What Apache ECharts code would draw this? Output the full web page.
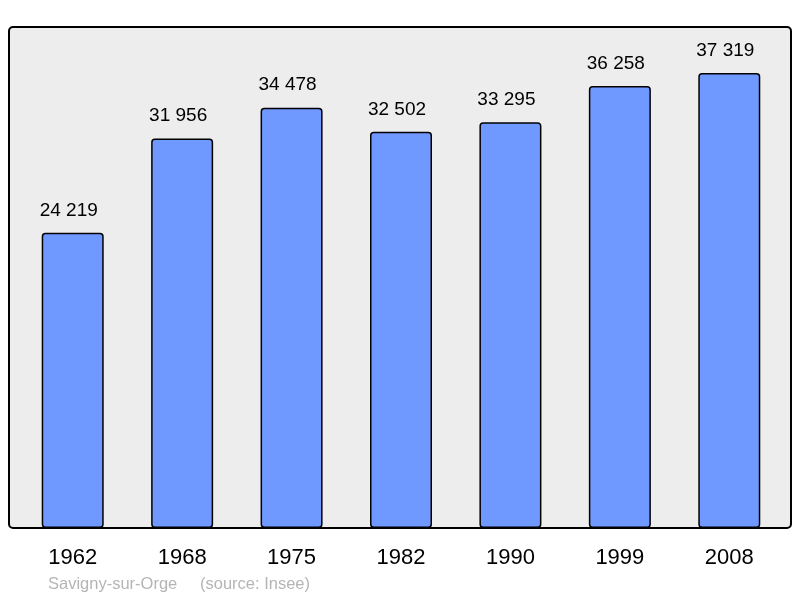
<html>
<head>
  <meta charset="utf-8">
  <title>Savigny-sur-Orge</title>
  <script src="https://cdn.jsdelivr.net/npm/echarts@6/dist/echarts.min.js"></script>
  <style>
    html,
    body {
      width: 100%;
      height: 100%;
      margin: 0;
      background: #fff;
    }

    #chart {
      width: 800px;
      height: 598px;
    }
  </style>
</head>
<body>
  <div id="chart"></div>
  <script>
    var years = ['1962', '1968', '1975', '1982', '1990', '1999', '2008'];
    var population = [24219, 31956, 34478, 32502, 33295, 36258, 37319];

    var myChart = echarts.init(document.getElementById('chart'));

    function fmt(v) {
      return String(v).replace(/\B(?=(\d{3})+(?!\d))/g, ' ');
    }

    var option = {
      animation: false,
      grid: {
        left: 18,
        top: 27,
        width: 766,
        height: 501
      },
      graphic: [{
        type: 'rect',
        z: -10,
        shape: { x: 9, y: 27, width: 782, height: 501, r: 4 },
        style: { fill: '#ededed', stroke: '#000', lineWidth: 2 }
      }, {
        type: 'text',
        left: 48,
        top: 576,
        style: {
          text: 'Savigny-sur-Orge',
          fill: '#b5b5b5',
          font: '16.5px "Liberation Sans", Arial, sans-serif'
        }
      }, {
        type: 'text',
        left: 200,
        top: 576,
        style: {
          text: '(source: Insee)',
          fill: '#b5b5b5',
          font: '16.5px "Liberation Sans", Arial, sans-serif'
        }
      }],
      xAxis: {
        type: 'category',
        data: years,
        axisLine: { show: false },
        axisTick: { show: false },
        axisLabel: {
          margin: 19,
          fontSize: 22,
          color: '#000',
          fontFamily: '"Liberation Sans", Arial, sans-serif'
        }
      },
      yAxis: {
        type: 'value',
        min: 0,
        max: 41100,
        show: false,
        splitLine: { show: false }
      },
      series: [{
        type: 'bar',
        data: population,
        barWidth: 62,
        itemStyle: {
          color: '#7099ff',
          borderColor: '#000',
          borderWidth: 1.5,
          borderRadius: 3
        },
        label: {
          show: true,
          position: 'top',
          distance: 13,
          offset: [-4, 0],
          fontSize: 19,
          color: '#000',
          fontFamily: '"Liberation Sans", Arial, sans-serif',
          formatter: function (p) { return fmt(p.value); }
        }
      }]
    };
    myChart.setOption(option);
  </script>
</body>
</html>
